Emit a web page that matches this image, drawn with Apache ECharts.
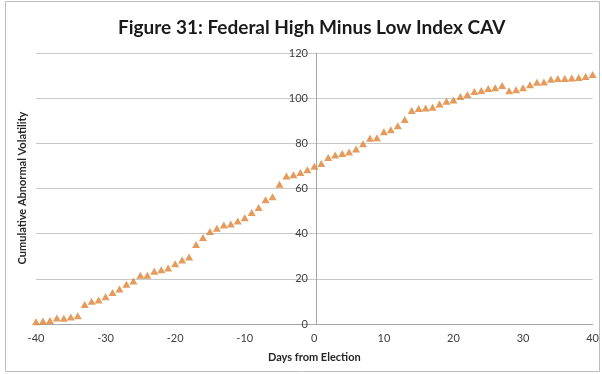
<!DOCTYPE html>
<html>
<head>
<meta charset="utf-8">
<script src="https://cdn.jsdelivr.net/npm/echarts@6/dist/echarts.min.js"></script>
<style>
  html, body { margin: 0; padding: 0; background: #fff; }
  #chart { width: 602px; height: 374px; }
</style>
</head>
<body>
<div id="chart"></div>
<script>
// days relative to election day
const days = []
for (let d = -40; d <= 40; d++) days.push(d)

// cumulative abnormal volatility
const cav = [
  1.0, 1.3, 1.6, 2.7, 2.5, 3.1, 3.7, 8.6, 10.1, 10.6,
  12.1, 14.0, 15.5, 17.6, 19.0, 21.6, 21.6, 23.4, 24.0, 24.8,
  26.7, 28.3, 29.7, 35.2, 38.3, 41.0, 42.4, 43.8, 44.3, 45.6,
  47.1, 49.4, 51.6, 55.0, 56.4, 61.9, 65.5, 66.1, 67.1, 68.3,
  69.9, 71.1, 73.7, 74.8, 75.5, 76.2, 77.5, 79.8, 82.2, 82.5,
  85.1, 86.0, 87.8, 90.5, 94.5, 95.4, 95.7, 96.0, 97.4, 98.6,
  99.2, 100.7, 101.6, 103.0, 103.4, 104.3, 104.6, 105.6, 103.3, 103.7,
  104.6, 105.9, 107.1, 107.2, 108.4, 108.7, 108.7, 108.9, 109.2, 109.6,
  110.5
]

const xTicks = [-40, -30, -20, -10, 0, 10, 20, 30, 40]
const yTicks = [0, 20, 40, 60, 80, 100, 120]

const font = 'Lato, "Open Sans", sans-serif'

const chart = echarts.init(document.getElementById('chart'))

const gridLeft = 36
const gridRight = 6
const plotWidth = 602 - gridLeft - gridRight
// shift the y axis so it sits on x = 0, like the original
const yAxisOffset = -plotWidth * (0 - xTicks[0]) / (xTicks[xTicks.length - 1] - xTicks[0])

const option = {
  animation: false,
  title: {
    text: 'Figure 31: Federal High Minus Low Index CAV',
    left: 113,
    top: 13,
    textStyle: {
      fontFamily: font,
      fontSize: 19,
      fontWeight: 'bold',
      color: '#1a1a1a'
    }
  },
  graphic: [
    {
      type: 'rect',
      shape: { x: 5.5, y: 1.5, width: 594, height: 370 },
      style: { fill: 'none', stroke: '#bdbdbd', lineWidth: 1 },
      z: -1
    },
    {
      type: 'text',
      x: 22,
      y: 188,
      rotation: Math.PI / 2,
      style: {
        text: 'Cumulative Abnormal Volatility',
        font: 'bold 11px ' + font,
        fill: '#262626',
        align: 'center',
        verticalAlign: 'middle'
      }
    }
  ],
  grid: {
    left: gridLeft,
    right: gridRight,
    top: 53,
    bottom: 50
  },
  xAxis: {
    type: 'value',
    min: xTicks[0],
    max: xTicks[xTicks.length - 1],
    interval: 10,
    name: 'Days from Election',
    nameLocation: 'middle',
    nameGap: 28,
    nameTextStyle: {
      fontFamily: font,
      fontSize: 11,
      fontWeight: 'bold',
      color: '#262626'
    },
    axisLine: { onZero: false, lineStyle: { color: '#a6a6a6' } },
    axisTick: { show: false },
    axisLabel: {
      fontFamily: font,
      fontSize: 11,
      color: '#404040',
      margin: 9
    },
    splitLine: { show: false }
  },
  yAxis: {
    type: 'value',
    min: yTicks[0],
    max: yTicks[yTicks.length - 1],
    interval: 20,
    position: 'left',
    offset: yAxisOffset,
    axisLine: { show: true, onZero: false, lineStyle: { color: '#a6a6a6' } },
    axisTick: { show: false },
    axisLabel: {
      fontFamily: font,
      fontSize: 11,
      color: '#404040',
      margin: 8
    },
    splitLine: { lineStyle: { color: '#c8c8c8' } }
  },
  series: [
    {
      type: 'scatter',
      symbol: 'triangle',
      symbolSize: [8, 7],
      itemStyle: { color: '#dd8232' },
      data: days.map((d, i) => [d, cav[i]])
    }
  ]
}

chart.setOption(option)
</script>
</body>
</html>
